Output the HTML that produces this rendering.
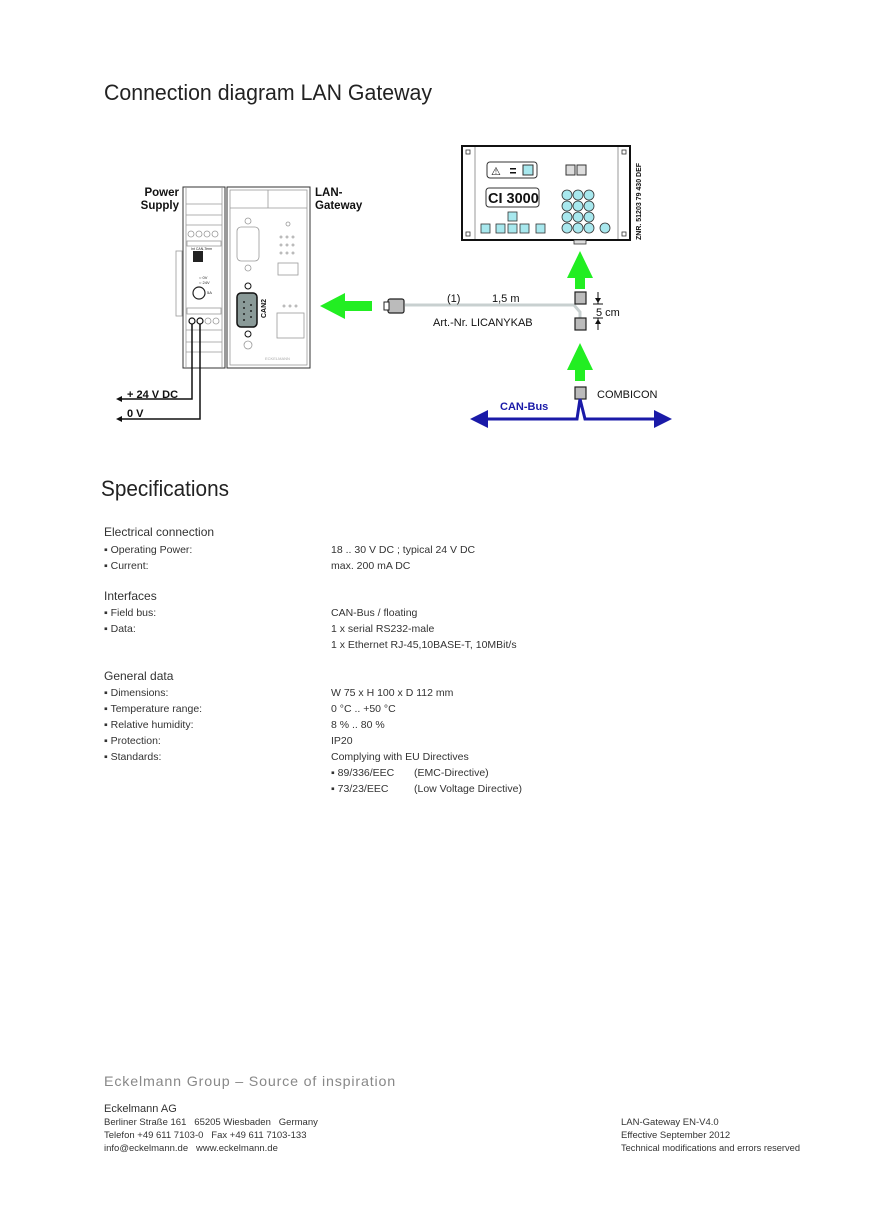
<!DOCTYPE html>
<html><head><meta charset="utf-8"><style>
html,body{margin:0;padding:0;background:#fff}
svg{display:block}
text{font-family:"Liberation Sans",sans-serif}
</style></head><body>
<svg width="870" height="1230" viewBox="0 0 870 1230" xmlns="http://www.w3.org/2000/svg">
<text x="104" y="100" font-size="22" fill="#222" textLength="328" lengthAdjust="spacingAndGlyphs">Connection diagram LAN Gateway</text>
<text x="101" y="496" font-size="22" fill="#222" textLength="128" lengthAdjust="spacingAndGlyphs">Specifications</text>

<g stroke="#999" fill="none" stroke-width="0.8">
<rect x="183" y="187" width="42" height="181" fill="#fff" stroke="#333" stroke-width="1"/>
<line x1="186" y1="187" x2="186" y2="368"/>
<line x1="222" y1="187" x2="222" y2="368"/>
<line x1="186" y1="204" x2="222" y2="204"/>
<line x1="186" y1="215" x2="222" y2="215"/>
<line x1="186" y1="225" x2="222" y2="225"/>
<circle cx="191" cy="234" r="3"/><circle cx="199" cy="234" r="3"/><circle cx="207" cy="234" r="3"/><circle cx="215" cy="234" r="3"/>
<rect x="187" y="241" width="34" height="5"/>
<rect x="187" y="308" width="34" height="6"/>
<circle cx="208" cy="321" r="3"/><circle cx="216" cy="321" r="3"/>
<line x1="186" y1="330" x2="222" y2="330"/>
<line x1="186" y1="342" x2="222" y2="342"/>
<line x1="186" y1="352" x2="222" y2="352"/>
<rect x="176" y="251" width="6" height="65"/>
</g>
<rect x="193" y="251" width="10" height="11" fill="#222"/>
<circle cx="199" cy="293" r="6" fill="#fff" stroke="#222" stroke-width="1.2"/>
<text x="199" y="279" font-size="4" fill="#222">○ 0V</text>
<text x="199" y="284" font-size="4" fill="#222">○ 24V</text>
<text x="207" y="294" font-size="4" fill="#222">5A</text>
<text x="191" y="250" font-size="3.5" fill="#222">Int CAN-Term</text>
<circle cx="192" cy="321" r="3" fill="#fff" stroke="#111" stroke-width="1.2"/>
<circle cx="200" cy="321" r="3" fill="#fff" stroke="#111" stroke-width="1.2"/>

<rect x="227" y="187" width="83" height="181" fill="#fff" stroke="#333" stroke-width="1"/>
<g stroke="#999" fill="none" stroke-width="0.8">
<rect x="230" y="190" width="77" height="175"/>
<line x1="230" y1="208" x2="307" y2="208"/>
<line x1="268" y1="190" x2="268" y2="208"/>
<rect x="237" y="227" width="22" height="34" rx="4"/>
<circle cx="248" cy="221" r="3"/><circle cx="248" cy="268" r="3"/>
<circle cx="288" cy="224" r="2"/>
<rect x="278" y="263" width="20" height="12"/>
<rect x="277" y="313" width="27" height="25"/>
<circle cx="248" cy="345" r="4"/>
</g>
<g fill="#bbb"><circle cx="281" cy="237" r="1.5"/><circle cx="287" cy="237" r="1.5"/><circle cx="293" cy="237" r="1.5"/>
<circle cx="281" cy="245" r="1.5"/><circle cx="287" cy="245" r="1.5"/><circle cx="293" cy="245" r="1.5"/>
<circle cx="281" cy="253" r="1.5"/><circle cx="287" cy="253" r="1.5"/><circle cx="293" cy="253" r="1.5"/>
<circle cx="284" cy="306" r="1.5"/><circle cx="290" cy="306" r="1.5"/><circle cx="296" cy="306" r="1.5"/></g>
<text x="265" y="360" font-size="4" fill="#aaa">ECKELMANN</text>
<rect x="237" y="293" width="20" height="34" rx="4" fill="#8a9a98" stroke="#111" stroke-width="1.5"/>
<circle cx="248" cy="286" r="3" fill="#fff" stroke="#111"/><circle cx="248" cy="334" r="3" fill="#fff" stroke="#111"/>
<g fill="#222"><circle cx="244" cy="302" r="1"/><circle cx="244" cy="308" r="1"/><circle cx="244" cy="314" r="1"/><circle cx="244" cy="320" r="1"/><circle cx="251" cy="305" r="1"/><circle cx="251" cy="311" r="1"/><circle cx="251" cy="317" r="1"/></g>
<text x="0" y="0" font-size="7" font-weight="bold" fill="#111" transform="translate(266,318) rotate(-90)">CAN2</text>

<text x="179" y="196" font-size="11.5" font-weight="bold" text-anchor="end" fill="#111">Power</text>
<text x="179" y="209" font-size="11.5" font-weight="bold" text-anchor="end" fill="#111">Supply</text>
<text x="315" y="196" font-size="11.5" font-weight="bold" fill="#111">LAN-</text>
<text x="315" y="209" font-size="11.5" font-weight="bold" fill="#111">Gateway</text>

<polyline points="192,324 192,399 120,399" fill="none" stroke="#111" stroke-width="1.5"/>
<polyline points="200,324 200,419 120,419" fill="none" stroke="#111" stroke-width="1.5"/>
<path d="M116,399 l6,-3 v6z M116,419 l6,-3 v6z" fill="#111"/>
<text x="127" y="398" font-size="11" font-weight="bold" fill="#111">+ 24 V DC</text>
<text x="127" y="417" font-size="11" font-weight="bold" fill="#111">0 V</text>

<path d="M320,306 L345,293 V301 H372 V311 H345 V319 Z" fill="#22ee22"/>
<path d="M580,251 L593,278 H585 V289 H575 V278 H567 Z" fill="#22ee22"/>
<path d="M580,343 L593,370 H585 V381 H575 V370 H567 Z" fill="#22ee22"/>

<polyline points="405,305 574,305 580,312 580,318" fill="none" stroke="#c8d0d0" stroke-width="3"/>
<rect x="388" y="299" width="16" height="14" rx="2" fill="#bbb" stroke="#222" stroke-width="1.2"/>
<rect x="384" y="302" width="5" height="8" fill="#fff" stroke="#222"/>
<rect x="575" y="292" width="11" height="12" fill="#bbb" stroke="#222" stroke-width="1.2"/>
<rect x="575" y="318" width="11" height="12" fill="#bbb" stroke="#222" stroke-width="1.2"/>
<text x="447" y="302" font-size="11" fill="#111">(1)</text>
<text x="492" y="302" font-size="11" fill="#111">1,5 m</text>
<text x="433" y="326" font-size="11" fill="#111">Art.-Nr. LICANYKAB</text>
<g stroke="#111" stroke-width="1"><line x1="598" y1="292" x2="598" y2="304"/><line x1="593" y1="304" x2="603" y2="304"/><line x1="593" y1="318" x2="603" y2="318"/><line x1="598" y1="318" x2="598" y2="330"/></g>
<path d="M595,298 h6 l-3,5z M595,324 h6 l-3,-5z" fill="#111"/>
<text x="596" y="316" font-size="11" fill="#111">5 cm</text>

<rect x="575" y="387" width="11" height="12" fill="#bbb" stroke="#222" stroke-width="1.2"/>
<text x="597" y="398" font-size="11" fill="#111">COMBICON</text>
<polyline points="478,419 577,419 580,399 585,419 662,419" fill="none" stroke="#1a1aa8" stroke-width="3"/>
<path d="M470,419 L488,410 V428Z M672,419 L654,410 V428Z" fill="#1a1aa8"/>
<text x="500" y="410" font-size="11" font-weight="bold" fill="#1a1aa8">CAN-Bus</text>

<rect x="462" y="146" width="168" height="94" fill="#fff" stroke="#111" stroke-width="2"/>
<line x1="475" y1="147" x2="475" y2="239" stroke="#999"/>
<line x1="618" y1="147" x2="618" y2="239" stroke="#999"/>
<g fill="#fff" stroke="#333" stroke-width="0.8"><rect x="466" y="150" width="4" height="4"/><rect x="622" y="150" width="4" height="4"/><rect x="466" y="232" width="4" height="4"/><rect x="622" y="232" width="4" height="4"/></g>
<rect x="574" y="240" width="12" height="4" fill="#ddd" stroke="#333" stroke-width="0.8"/>
<rect x="487" y="162" width="50" height="16" rx="3" fill="#fff" stroke="#333"/>
<text x="491" y="175" font-size="11" fill="#111">⚠</text>
<rect x="510" y="168" width="6" height="1.5" fill="#111"/><rect x="510" y="172" width="6" height="1.5" fill="#111"/>
<rect x="523" y="165" width="10" height="10" fill="#a8e8ee" stroke="#333"/>
<rect x="486" y="188" width="53" height="19" rx="3" fill="#fff" stroke="#333"/>
<text x="488" y="203" font-size="14.5" font-weight="bold" fill="#111">CI 3000</text>
<rect x="566" y="165" width="9" height="10" fill="#ddd" stroke="#333"/><rect x="577" y="165" width="9" height="10" fill="#ddd" stroke="#333"/>
<g fill="#a8e8ee" stroke="#333" stroke-width="0.8">
<rect x="508" y="212" width="9" height="9"/>
<rect x="481" y="224" width="9" height="9"/><rect x="496" y="224" width="9" height="9"/><rect x="508" y="224" width="9" height="9"/><rect x="520" y="224" width="9" height="9"/><rect x="536" y="224" width="9" height="9"/>
<circle cx="567" cy="195" r="5"/><circle cx="578" cy="195" r="5"/><circle cx="589" cy="195" r="5"/>
<circle cx="567" cy="206" r="5"/><circle cx="578" cy="206" r="5"/><circle cx="589" cy="206" r="5"/>
<circle cx="567" cy="217" r="5"/><circle cx="578" cy="217" r="5"/><circle cx="589" cy="217" r="5"/>
<circle cx="567" cy="228" r="5"/><circle cx="578" cy="228" r="5"/><circle cx="589" cy="228" r="5"/><circle cx="605" cy="228" r="5"/>
</g>
<text x="0" y="0" font-size="7" font-weight="bold" fill="#111" transform="translate(641,240) rotate(-90)">ZNR. 51203 79 430 DEF</text>

<g font-size="10.5" fill="#333">
<text x="104" y="536" font-size="12">Electrical connection</text>
<text x="104" y="553">▪ Operating Power:</text><text x="331" y="553">18 .. 30 V DC ; typical 24 V DC</text>
<text x="104" y="569">▪ Current:</text><text x="331" y="569">max. 200 mA DC</text>
<text x="104" y="600" font-size="12">Interfaces</text>
<text x="104" y="616">▪ Field bus:</text><text x="331" y="616">CAN-Bus / floating</text>
<text x="104" y="632">▪ Data:</text><text x="331" y="632">1 x serial RS232-male</text>
<text x="331" y="648">1 x Ethernet RJ-45,10BASE-T, 10MBit/s</text>
<text x="104" y="680" font-size="12">General data</text>
<text x="104" y="696">▪ Dimensions:</text><text x="331" y="696">W 75 x H 100 x D 112 mm</text>
<text x="104" y="712">▪ Temperature range:</text><text x="331" y="712">0 °C .. +50 °C</text>
<text x="104" y="728">▪ Relative humidity:</text><text x="331" y="728">8 % .. 80 %</text>
<text x="104" y="744">▪ Protection:</text><text x="331" y="744">IP20</text>
<text x="104" y="760">▪ Standards:</text><text x="331" y="760">Complying with EU Directives</text>
<text x="331" y="776">▪ 89/336/EEC</text><text x="414" y="776">(EMC-Directive)</text>
<text x="331" y="792">▪ 73/23/EEC</text><text x="414" y="792">(Low Voltage Directive)</text>
</g>

<text x="104" y="1086" font-size="14" fill="#888" letter-spacing="0.8" textLength="292" lengthAdjust="spacingAndGlyphs">Eckelmann Group – Source of inspiration</text>
<g fill="#333" font-size="9.5">
<text x="104" y="1112" font-size="11">Eckelmann AG</text>
<text x="104" y="1125">Berliner Straße 161 &#160; 65205 Wiesbaden &#160; Germany</text>
<text x="104" y="1138">Telefon +49 611 7103-0 &#160; Fax +49 611 7103-133</text>
<text x="104" y="1151">info@eckelmann.de &#160; www.eckelmann.de</text>
<text x="621" y="1125">LAN-Gateway EN-V4.0</text>
<text x="621" y="1138">Effective September 2012</text>
<text x="621" y="1151" textLength="179" lengthAdjust="spacingAndGlyphs">Technical modifications and errors reserved</text>
</g>
</svg>
</body></html>
